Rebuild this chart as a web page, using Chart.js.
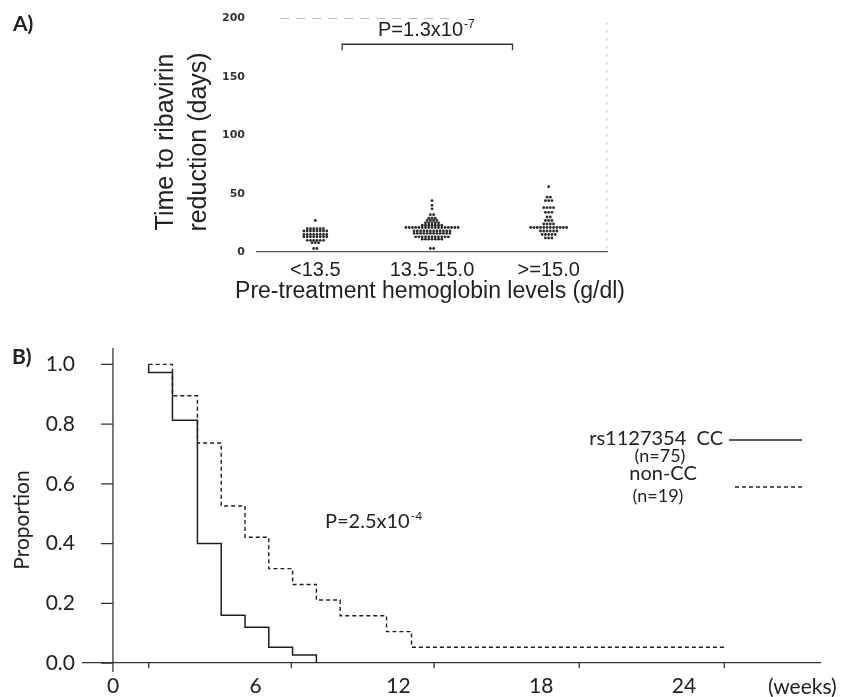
<!DOCTYPE html>
<html>
<head>
<meta charset="utf-8">
<script src="https://cdn.jsdelivr.net/npm/chart.js@4.4.1/dist/chart.umd.min.js"></script>
<style>
  html, body { margin: 0; padding: 0; background: #fff; }
  #wrap { position: relative; width: 843px; height: 697px; overflow: hidden; background: #fff; }
  canvas { position: absolute; left: 0; }
  #chartA { top: 0; }
  #chartB { top: 320px; }
</style>
</head>
<body>
<div id="wrap">
  <canvas id="chartA" width="843" height="320"></canvas>
  <canvas id="chartB" width="843" height="377"></canvas>
</div>
<script>
// ---- Panel A data: days to ribavirin reduction, by pre-treatment Hb ----
var hbGroups = ['<13.5', '13.5-15.0', '>=15.0'];
var daysLow = [27,
  20, 20, 20, 20, 20, 20,
  18, 18, 18, 18, 18, 18, 18, 18,
  15, 15, 15, 15, 15, 15, 15, 15,
  13, 13, 13, 13, 13, 13, 13, 13,
  10, 10, 10, 10, 10, 10,
  8, 8, 8,
  3, 3];
var daysMid = [44, 40, 37,
  32, 32,
  29, 29, 29,
  27, 27, 27, 27,
  25, 25, 25, 25, 25,
  23, 23, 23, 23, 23, 23, 23,
  21, 21, 21, 21, 21, 21, 21, 21, 21, 21, 21, 21, 21, 21, 21, 21, 21,
  18, 18, 18, 18, 18, 18, 18, 18, 18, 18, 18, 18,
  16, 16, 16, 16, 16, 16, 16, 16, 16, 16, 16, 16,
  13, 13, 13, 13, 13, 13, 13, 13, 13, 13, 13,
  11, 11, 11, 11, 11, 11, 11,
  3, 3];
var daysHigh = [56,
  47, 47,
  44, 44, 44,
  38, 38, 38, 38,
  34, 34, 34,
  30, 30,
  27, 27, 27,
  24, 24, 24, 24,
  21, 21, 21, 21, 21, 21, 21, 21, 21, 21, 21, 21,
  18, 18, 18, 18, 18, 18,
  15, 15, 15, 15, 15,
  12, 12, 12];
var daysTicks = [0, 50, 100, 150, 200];

// ---- Panel B data: Kaplan-Meier, proportion without ribavirin reduction ----
var weeksCC = [1.5, 1.5, 2.5, 3.55, 4.55, 5.55, 6.55, 7.55, 8.55];
var propCC = [1.0, 0.973, 0.813, 0.40, 0.16, 0.12, 0.053, 0.027, 0.0];
var weeksNonCC = [1.5, 2.5, 3.55, 4.55, 5.55, 6.55, 7.55, 8.55, 9.55, 11.5, 12.55, 25.7];
var propNonCC = [1.0, 0.895, 0.737, 0.526, 0.421, 0.316, 0.263, 0.211, 0.158, 0.105, 0.053, 0.053];
var weekTicks = [0, 6, 12, 18, 24];
var weekMinorTicks = [1.5, 7.5, 13.5, 19.6, 25.7];
var propTicks = [0, 0.2, 0.4, 0.6, 0.8, 1.0];

var INK = '#222';
var SANS = '"Liberation Sans", Arial, sans-serif';
var CAL = 'Lato, "Open Sans", sans-serif';

// spread equal values side by side (simple beeswarm)
function swarm(values, groupIndex) {
  var step = 0.028;
  var counts = {}, seen = {};
  values.forEach(function(v) { counts[v] = (counts[v] || 0) + 1; });
  return values.map(function(v) {
    var k = seen[v] || 0;
    seen[v] = k + 1;
    return { x: groupIndex + (k - (counts[v] - 1) / 2) * step, y: v };
  });
}

function pairs(xs, ys) {
  return xs.map(function(x, i) { return { x: x, y: ys[i] }; });
}

function fixedTicks(list) {
  return function(scale) {
    scale.ticks = list.map(function(v) { return { value: v }; });
  };
}

// ---------------- Panel A ----------------
var decorA = {
  id: 'decorA',
  afterDraw: function(chart) {
    var ctx = chart.ctx, a = chart.chartArea;
    var x = chart.scales.x, y = chart.scales.y;
    ctx.save();

    // faint frame, top and right
    ctx.strokeStyle = '#b8b8b8';
    ctx.lineWidth = 1;
    ctx.setLineDash([2, 6]);
    ctx.beginPath(); ctx.moveTo(a.right, a.top + 4); ctx.lineTo(a.right, a.bottom); ctx.stroke();
    ctx.setLineDash([9, 7]);
    ctx.beginPath(); ctx.moveTo(x.getPixelForValue(-0.3), a.top); ctx.lineTo(x.getPixelForValue(1.2), a.top); ctx.stroke();

    // significance bracket
    var bx1 = x.getPixelForValue(0.23), bx2 = x.getPixelForValue(1.69);
    var by = y.getPixelForValue(178);
    ctx.setLineDash([]);
    ctx.strokeStyle = '#333';
    ctx.lineWidth = 1.3;
    ctx.beginPath();
    ctx.moveTo(bx1, by + 6); ctx.lineTo(bx1, by); ctx.lineTo(bx2, by); ctx.lineTo(bx2, by + 6);
    ctx.stroke();

    ctx.fillStyle = INK;
    ctx.textBaseline = 'middle';
    ctx.textAlign = 'left';
    ctx.font = '20px ' + SANS;
    var pText = 'P=1.3x10';
    var px = 378, py = y.getPixelForValue(190);
    ctx.fillText(pText, px, py);
    var pw = ctx.measureText(pText).width;
    ctx.font = '12px ' + SANS;
    ctx.fillText('-7', px + pw + 1, py - 6);

    // panel letter
    ctx.font = 'bold 21px ' + CAL;
    ctx.fillText('A)', 13, 24);

    // x title (drawn here so it may run wider than the plot)
    ctx.font = '23px ' + SANS;
    ctx.textAlign = 'center';
    ctx.fillText('Pre-treatment hemoglobin levels (g/dl)', 430, 292);

    // y title, two lines
    ctx.font = '25px ' + SANS;
    ctx.save();
    ctx.translate(166, 142);
    ctx.rotate(-Math.PI / 2);
    ctx.fillText('Time to ribavirin', 0, 0);
    ctx.restore();
    ctx.save();
    ctx.translate(199, 142);
    ctx.rotate(-Math.PI / 2);
    ctx.fillText('reduction (days)', 0, 0);
    ctx.restore();

    ctx.restore();
  }
};

function dotSet(data) {
  return {
    data: data,
    pointRadius: 1.4,
    pointBorderWidth: 0,
    pointBackgroundColor: '#2a2a2a',
    showLine: false
  };
}

new Chart(document.getElementById('chartA'), {
  type: 'scatter',
  data: {
    datasets: [
      dotSet(swarm(daysLow, 0)),
      dotSet(swarm(daysMid, 1)),
      dotSet(swarm(daysHigh, 2))
    ]
  },
  options: {
    responsive: false,
    animation: false,
    layout: { padding: { top: 15, right: 236, left: 0, bottom: 0 } },
    plugins: { legend: { display: false }, tooltip: { enabled: false } },
    scales: {
      x: {
        type: 'linear', min: -0.5, max: 2.5,
        afterBuildTicks: fixedTicks([0, 1, 2]),
        afterFit: function(s) { s.height = 68; },
        ticks: {
          callback: function(v) { return hbGroups[v]; },
          font: { family: SANS, size: 20 },
          color: INK, padding: 6, maxRotation: 0
        },
        grid: { display: false, drawTicks: false },
        border: { display: true, color: '#555', width: 1.2, dash: [3, 2] }
      },
      y: {
        min: 0, max: 200,
        afterBuildTicks: fixedTicks(daysTicks),
        afterFit: function(s) { s.width = 257; },
        ticks: {
          font: { family: '"DejaVu Sans", sans-serif', size: 11, weight: 'bold' },
          color: '#333', padding: 12
        },
        grid: { display: false, drawTicks: false },
        border: { display: false }
      }
    }
  },
  plugins: [decorA]
});

// ---------------- Panel B ----------------
var decorB = {
  id: 'decorB',
  afterDatasetsDraw: function(chart) {
    var ctx = chart.ctx, a = chart.chartArea;
    var x = chart.scales.x, y = chart.scales.y;
    var x0 = x.getPixelForValue(0);
    ctx.save();

    // vertical axis sits at week 0
    ctx.strokeStyle = '#333';
    ctx.lineWidth = 1.3;
    ctx.beginPath(); ctx.moveTo(x0, a.top); ctx.lineTo(x0, a.bottom + 9); ctx.stroke();
    ctx.beginPath();
    propTicks.forEach(function(v) {
      var py = y.getPixelForValue(v);
      ctx.moveTo(x0 - 12, py); ctx.lineTo(x0, py);
    });
    weekMinorTicks.forEach(function(v) {
      var px = x.getPixelForValue(v);
      ctx.moveTo(px, a.bottom); ctx.lineTo(px, a.bottom + 5);
    });
    ctx.stroke();

    ctx.fillStyle = INK;
    ctx.textBaseline = 'middle';
    ctx.textAlign = 'left';

    // p value
    ctx.font = '20px ' + CAL;
    var pText = 'P=2.5x10';
    ctx.fillText(pText, 325, 202);
    var pw = ctx.measureText(pText).width;
    ctx.font = '12px ' + CAL;
    ctx.fillText('-4', 325 + pw + 1, 196);

    // legend
    ctx.font = '20px ' + CAL;
    ctx.textAlign = 'right';
    ctx.fillText('rs1127354  CC', 723, 119);
    ctx.textAlign = 'center';
    ctx.fillText('non-CC', 663, 154);
    ctx.font = '18px ' + CAL;
    ctx.fillText('(n=75)', 660, 136);
    ctx.fillText('(n=19)', 658, 176);
    ctx.strokeStyle = '#222';
    ctx.lineWidth = 1.4;
    ctx.beginPath(); ctx.moveTo(729, 120); ctx.lineTo(802, 120); ctx.stroke();
    ctx.setLineDash([4, 3]);
    ctx.beginPath(); ctx.moveTo(735, 167); ctx.lineTo(802, 167); ctx.stroke();
    ctx.setLineDash([]);

    // axis words
    ctx.font = '21px ' + CAL;
    ctx.textAlign = 'left';
    ctx.fillText('(weeks)', 768, 367);
    ctx.font = 'bold 21px ' + CAL;
    ctx.fillText('B)', 12, 37);
    ctx.font = '21px ' + CAL;
    ctx.textAlign = 'center';
    ctx.translate(22, 200);
    ctx.rotate(-Math.PI / 2);
    ctx.fillText('Proportion', 0, 0);

    ctx.restore();
  }
};

new Chart(document.getElementById('chartB'), {
  type: 'line',
  data: {
    datasets: [
      {
        label: 'rs1127354 CC (n=75)',
        data: pairs(weeksCC, propCC),
        stepped: true,
        borderColor: '#1e1e1e', borderWidth: 1.5,
        pointRadius: 0, fill: false
      },
      {
        label: 'non-CC (n=19)',
        data: pairs(weeksNonCC, propNonCC),
        stepped: true,
        borderColor: '#1e1e1e', borderWidth: 1.4, borderDash: [4, 3],
        pointRadius: 0, fill: false
      }
    ]
  },
  options: {
    responsive: false,
    animation: false,
    layout: { padding: { top: 28, right: 23, left: 0, bottom: 0 } },
    plugins: { legend: { display: false }, tooltip: { enabled: false } },
    scales: {
      x: {
        type: 'linear', min: -1.26, max: 29.72,
        afterBuildTicks: fixedTicks(weekTicks),
        afterFit: function(s) { s.height = 34; },
        ticks: {
          font: { family: CAL, size: 21 },
          color: INK, padding: 11, maxRotation: 0
        },
        grid: { display: false, drawTicks: false },
        border: { display: true, color: '#333', width: 1.3 }
      },
      y: {
        min: 0, max: 1.055,
        afterBuildTicks: fixedTicks(propTicks),
        afterFit: function(s) { s.width = 83; },
        ticks: {
          callback: function(v) { return v.toFixed(1); },
          font: { family: CAL, size: 21 },
          color: INK, padding: 8
        },
        grid: { display: false, drawTicks: false },
        border: { display: false }
      }
    }
  },
  plugins: [decorB]
});
</script>
</body>
</html>
